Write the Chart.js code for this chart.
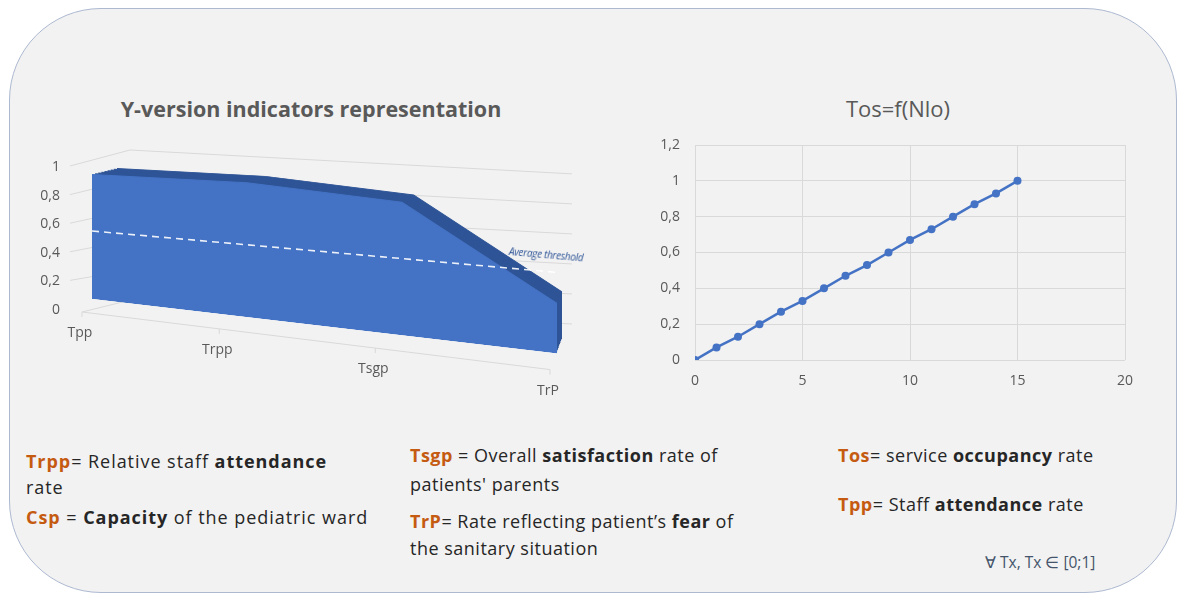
<!DOCTYPE html>
<html>
<head>
<meta charset="utf-8">
<script src="https://cdn.jsdelivr.net/npm/chart.js@4.4.1/dist/chart.umd.min.js"></script>
<style>
  html, body { margin: 0; padding: 0; background: #ffffff; }
  body { position: relative; width: 1178px; height: 595px; overflow: hidden; font-family: "Open Sans", sans-serif; }
  .panel { position: absolute; left: 9px; top: 8px; width: 1168px; height: 585px; box-sizing: border-box;
           background: #f2f2f2; border: 1.5px solid #adb9d1; border-radius: 92px; }
  .title { position: absolute; color: #595959; text-align: center; line-height: 26px; white-space: nowrap; }
  .box { position: absolute; }
  .box canvas { display: block; }
  .threshold { position: absolute; left: 509px; top: 244px; font-size: 10px; font-style: italic; color: #2f5597;
               transform: rotate(5deg); transform-origin: left center; white-space: nowrap; letter-spacing: -0.3px; }
  .note { position: absolute; font-size: 18px; letter-spacing: 0.5px; color: #262626; white-space: nowrap; }
  .note.wide { letter-spacing: 0.95px; }
  .note b { font-weight: 700; }
  .k { color: #c55a11; font-weight: 700; }
  .forall { position: absolute; left: 985px; top: 552px; font-size: 15.5px; line-height: 20px; color: #44546a; white-space: nowrap; }
</style>
</head>
<body>
<div class="panel"></div>

<div class="title" style="left:111px; top:96px; width:400px; font-size:21.5px; font-weight:700;">Y-version indicators representation</div>
<div class="title" style="left:798px; top:95px; width:200px; font-size:22px;">Tos=f(Nlo)</div>

<div class="box" style="left:20px; top:140px;"><canvas id="indicators" width="580" height="270"></canvas></div>
<div class="threshold">Average threshold</div>
<div class="box" style="left:640px; top:130px;"><canvas id="tos" width="520" height="270"></canvas></div>

<div class="note wide" style="left:26px; top:448px; line-height:26px;"><span class="k">Trpp</span>= Relative staff <b>attendance</b><br>rate</div>
<div class="note wide" style="left:26px; top:504px; line-height:26px;"><span class="k">Csp</span> = <b>Capacity</b> of the pediatric ward</div>
<div class="note" style="left:410px; top:441px; line-height:29px;"><span class="k">Tsgp</span> = Overall <b>satisfaction</b> rate of<br>patients' parents</div>
<div class="note" style="left:410px; top:508px; line-height:27px;"><span class="k">TrP</span>= Rate reflecting patient’s <b>fear</b> of<br>the sanitary situation</div>
<div class="note" style="left:838px; top:442px; line-height:26px;"><span class="k">Tos</span>= service <b>occupancy</b> rate</div>
<div class="note" style="left:838px; top:491px; line-height:26px;"><span class="k">Tpp</span>= Staff <b>attendance</b> rate</div>
<div class="forall">∀ Tx, Tx ∈ [0;1]</div>

<script>
// left chart data
const categories = ["Tpp", "Trpp", "Tsgp", "TrP"];
const indicatorValues = [0.87, 0.94, 0.93, 0.35];
const thresholdValues = [0.5, 0.5, 0.5, 0.5];

// right chart data
const nloValues = [0, 1, 2, 3, 4, 5, 6, 7, 8, 9, 10, 11, 12, 13, 14, 15];
const tosValues = [0, 0.07, 0.13, 0.2, 0.27, 0.33, 0.4, 0.47, 0.53, 0.6, 0.67, 0.73, 0.8, 0.87, 0.93, 1];

const TEXT = "#595959";
const GRID = "#d9d9d9";
const BLUE = "#4472c4";
const DARK = "#2f5597";
const FONT = { family: "Open Sans", size: 14 };

// fake 3d: shear + vanishing point, all in canvas px
const VANISH = { x: 653, y: -105, scale: 0.957 };
const WALL = { side: -22, back0: 38, back1: 15, lift: -17, stretch: 1.05, slope: 0.054 };
const FLOOR = { dx: -10, dy: 2, grow: 3, bend: 0.18, slope: 0.123 };
const DEPTH_STEPS = [0.125, 0.25, 0.375, 0.5, 0.625, 0.75, 0.875, 1];

function comma(v) {
  return String(Math.round(v * 10) / 10).replace(".", ",");
}

// tick padding would otherwise be added above/below the plot
function fixAxis(width) {
  return (s) => {
    s.width = width;
    s.paddingTop = 0;
    s.paddingBottom = 0;
  };
}

function setView(chart, index) {
  const ctx = chart.ctx;
  const view = chart.data.datasets[index].view;
  if (!view) return;
  if (view.depth) {
    const s = 1 - view.depth * (1 - VANISH.scale);
    ctx.translate(VANISH.x * (1 - s), VANISH.y * (1 - s));
    ctx.scale(s, s);
  }
  ctx.transform(1, view.slope, 0, 1, 0, view.lift - view.slope * chart.chartArea.left);
}

function drawWalls(chart) {
  const { ctx, chartArea: a } = chart;
  const ys = chart.scales.y, xs = chart.scales.x;
  const bx0 = a.left + WALL.back0, bx1 = a.right + WALL.back1;
  const backY = (v) => a.top + (ys.getPixelForValue(v) - a.top) * WALL.stretch + WALL.lift;

  const floor = categories.map((c, i) => {
    const u = (xs.getPixelForValue(i) - a.left) / (a.right - a.left);
    const fx = a.left + FLOOR.dx + (a.right - a.left + FLOOR.grow) * (u * (1 - FLOOR.bend) + FLOOR.bend * u * u);
    const fy = a.bottom + FLOOR.dy + FLOOR.slope * (fx - a.left - FLOOR.dx);
    return { fx, fy };
  });

  ctx.save();
  ctx.strokeStyle = GRID;
  ctx.lineWidth = 1;
  ys.ticks.forEach((t) => {
    const yb = backY(t.value);
    ctx.beginPath();
    if (t.value === 0) ctx.moveTo(floor[0].fx, floor[0].fy);
    else ctx.moveTo(a.left + WALL.side, ys.getPixelForValue(t.value) - 1);
    ctx.lineTo(bx0, yb);
    ctx.lineTo(bx1, yb + WALL.slope * (bx1 - bx0));
    ctx.stroke();
  });

  // floor edge + ticks
  ctx.beginPath();
  ctx.moveTo(floor[0].fx, floor[0].fy);
  ctx.lineTo(floor[floor.length - 1].fx, floor[floor.length - 1].fy);
  floor.forEach((p) => { ctx.moveTo(p.fx, p.fy); ctx.lineTo(p.fx, p.fy + 5); });
  ctx.stroke();

  ctx.fillStyle = TEXT;
  ctx.font = "14px 'Open Sans'";
  ctx.textAlign = "center";
  ctx.textBaseline = "middle";
  floor.forEach((p, i) => ctx.fillText(categories[i], p.fx - 2, p.fy + 21));
  ctx.restore();
}

const perspective = {
  id: "perspective",
  beforeDatasetsDraw(chart) {
    drawWalls(chart);
    const metas = chart.getSortedVisibleDatasetMetas();
    chart.ctx.save();
    setView(chart, metas[metas.length - 1].index);
  },
  afterDatasetDraw(chart, args) {
    // filler paints in beforeDatasetDraw, so the next view is set up here
    const metas = chart.getSortedVisibleDatasetMetas();
    const pos = metas.findIndex((m) => m.index === args.index);
    chart.ctx.restore();
    chart.ctx.save();
    if (pos > 0) setView(chart, metas[pos - 1].index);
  },
  afterDatasetsDraw(chart) {
    chart.ctx.restore();
  }
};

const depthSets = DEPTH_STEPS.map((d) => ({
  data: indicatorValues,
  fill: "origin",
  backgroundColor: DARK,
  borderColor: DARK,
  borderWidth: 1,
  pointRadius: 0,
  clip: false,
  view: { slope: 0.117, lift: -11, depth: d }
}));

new Chart(document.getElementById("indicators"), {
  type: "line",
  data: {
    labels: categories,
    datasets: [
      {
        data: thresholdValues,
        fill: false,
        borderColor: "rgba(255,255,255,0.9)",
        borderDash: [7, 5],
        borderWidth: 1.6,
        pointRadius: 0,
        clip: false,
        view: { slope: 0.089, lift: -7.5 }
      },
      {
        data: indicatorValues,
        fill: "origin",
        backgroundColor: BLUE,
        borderColor: BLUE,
        borderWidth: 1,
        pointRadius: 0,
        clip: false,
        view: { slope: 0.117, lift: -11 }
      },
      ...depthSets
    ]
  },
  options: {
    responsive: false,
    animation: false,
    layout: { padding: { top: 27, bottom: 100, right: 43, left: 0 } },
    plugins: { legend: { display: false }, tooltip: { enabled: false } },
    elements: { line: { tension: 0 } },
    scales: {
      x: { type: "category", display: false, offset: false },
      y: {
        min: 0,
        max: 1,
        ticks: { stepSize: 0.2, padding: 32, color: TEXT, font: FONT, callback: comma },
        grid: { display: false, drawTicks: false },
        border: { display: false },
        afterFit: fixAxis(72)
      }
    }
  },
  plugins: [perspective]
});

new Chart(document.getElementById("tos"), {
  type: "scatter",
  data: {
    datasets: [
      {
        data: nloValues.map((x, i) => ({ x, y: tosValues[i] })),
        showLine: true,
        borderColor: BLUE,
        backgroundColor: BLUE,
        borderWidth: 2.5,
        pointRadius: 4,
        pointBorderWidth: 0
      }
    ]
  },
  options: {
    responsive: false,
    animation: false,
    layout: { padding: { top: 15, right: 35 } },
    plugins: { legend: { display: false }, tooltip: { enabled: false } },
    scales: {
      x: {
        type: "linear",
        min: 0,
        max: 20,
        ticks: { stepSize: 5, padding: 13, color: TEXT, font: FONT },
        grid: { color: GRID, drawTicks: false },
        border: { display: false },
        afterFit(s) { s.height = 40; }
      },
      y: {
        min: 0,
        max: 1.2,
        ticks: { stepSize: 0.2, padding: 15, color: TEXT, font: FONT, callback: comma },
        grid: { color: GRID, drawTicks: false },
        border: { display: false },
        afterFit: fixAxis(55)
      }
    }
  }
});
</script>
</body>
</html>
